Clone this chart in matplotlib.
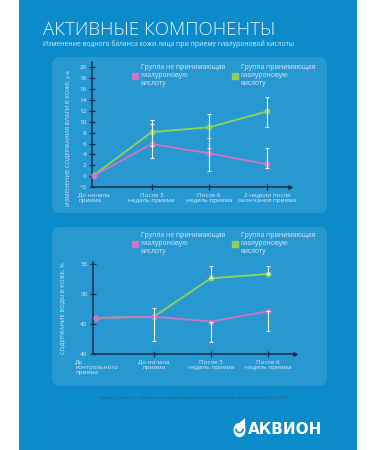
import matplotlib
matplotlib.use("Agg")
import matplotlib.pyplot as plt
from matplotlib.patches import FancyBboxPatch, Rectangle, Circle, Polygon
from matplotlib.lines import Line2D
import numpy as np

plt.rcParams['font.family'] = ['Open Sans', 'DejaVu Sans']

W, H = 375, 450

# chart 1: change of skin moisture
labels1 = ["До начала\nприема", "После 3\nнедель приема", "После 6\nнедель приема",
           "2 недели после\nокончания приема"]
pink1 = [0.1, 5.9, 4.2, 2.2]
pink1_lo = [0.1, 3.4, 1.0, 1.5]
pink1_hi = [0.1, 9.6, 7.1, 5.2]
green1 = [0.2, 8.1, 9.0, 11.9]
green1_lo = [0.2, 5.6, 5.2, 9.0]
green1_hi = [0.2, 10.4, 11.4, 14.6]
yticks1 = list(range(-2, 21, 2))

# chart 2: water content in skin, %
labels2 = ["До\nконтрольного\nприема", "До начала\nприема", "После 3\nнедель приема",
           "После 6\nнедель приема"]
pink2 = [46.0, 46.2, 45.4, 47.1]
pink2_lo = [46.0, 42.1, 42.0, 43.8]
pink2_hi = [46.0, 47.7, 45.4, 47.1]
green2 = [46.0, 46.2, 52.6, 53.3]
green2_lo = [46.0, 46.2, 52.6, 53.3]
green2_hi = [46.0, 46.2, 54.7, 54.6]
yticks2 = [40, 45, 50, 55]

leg_labels = ["Группа не принимающая\nгиалуроновую\nкислоту",
              "Группа принимающая\nгиалуроновую\nкислоту"]

BLUE = '#0b8bca'
PANEL = '#2898d1'
TXT = '#d9edf9'
AXC = '#1b2d4f'
PINK = '#cf74c9'
GREEN = '#8fd35b'


def fx(x):
    return x / W


def fy(y):
    return 1 - y / H


fig = plt.figure(figsize=(3.75, 4.5), dpi=100)
fig.patch.set_facecolor('white')
fig.patches.append(Rectangle((fx(19), 0), fx(357 - 19), 1, transform=fig.transFigure,
                             facecolor=BLUE, edgecolor='none', zorder=-3))
for top, bot in [(57, 213), (227, 386)]:
    fig.patches.append(FancyBboxPatch((fx(52), fy(bot)), fx(327 - 52), (bot - top) / H,
                                      boxstyle="round,pad=0,rounding_size=0.02",
                                      transform=fig.transFigure, facecolor=PANEL,
                                      edgecolor='none', zorder=-2))

fig.text(fx(43), fy(30), "АКТИВНЫЕ КОМПОНЕНТЫ", fontsize=13.5, color='#eaf5fc',
         weight='light', va='center', ha='left')
fig.text(fx(43), fy(44.5), "Изменение водного баланса кожи лица при приеме гиалуроновой кислоты",
         fontsize=4.9, color=TXT, va='center', ha='left')


def draw_chart(rect, xlim, ylim, yticks, labels, pink, plo, phi, green, glo, ghi, ylabel,
               ylabel_pos, leg_y):
    ax = fig.add_axes(rect)
    ax.set_facecolor('none')
    x = np.arange(len(labels))
    for vals, lo, hi, c in [(green, glo, ghi, GREEN), (pink, plo, phi, PINK)]:
        vals, lo, hi = np.array(vals), np.array(lo), np.array(hi)
        ax.plot(x, vals, color=c, lw=1.3, marker='o', ms=3.2, zorder=3, clip_on=False)
        m = (hi - lo) > 0
        ax.errorbar(x[m], vals[m], yerr=[vals[m] - lo[m], hi[m] - vals[m]], fmt='none',
                    ecolor='#f2f6fa', elinewidth=0.8, capsize=1.6, capthick=0.8, zorder=4)
    ax.set_xlim(*xlim)
    ax.set_ylim(*ylim)
    for s in ['top', 'right']:
        ax.spines[s].set_visible(False)
    for s in ['left', 'bottom']:
        ax.spines[s].set_color(AXC)
        ax.spines[s].set_linewidth(1.1)
    ax.set_yticks(yticks)
    ax.set_xticks(x, labels)
    ax.tick_params(axis='both', direction='inout', length=4, width=0.9, color=AXC,
                   labelsize=4.5, labelcolor=TXT, pad=2)
    ax.xaxis.get_major_ticks()[0].tick1line.set_visible(False)
    tl = ax.get_xticklabels()
    tl[0].set_multialignment('left')
    for t in tl:
        t.set_linespacing(1.1)
    ax.plot(1, 0, '>', color=AXC, ms=2.5, transform=ax.transAxes, clip_on=False)
    fig.text(fx(ylabel_pos[0]), fy(ylabel_pos[1]), ylabel, rotation=90, fontsize=4.3,
             color=TXT, ha='center', va='center')
    handles = [Line2D([], [], marker='s', ls='none', color=PINK, ms=4),
               Line2D([], [], marker='s', ls='none', color=GREEN, ms=4)]
    fig.legend(handles, leg_labels, ncol=2, loc='upper left',
               bbox_to_anchor=(fx(132), fy(leg_y)), frameon=False, fontsize=4.9,
               labelcolor=TXT, handletextpad=0.3, columnspacing=1.0, handlelength=1.0,
               borderaxespad=0, borderpad=0)
    return ax


draw_chart([fx(92), fy(187), fx(290 - 92), (187 - 62) / H], (-0.035, 3.4), (-2, 21),
           yticks1, labels1, pink1, pink1_lo, pink1_hi, green1, green1_lo, green1_hi,
           "ИЗМЕНЕНИЕ СОДЕРЖАНИЯ ВЛАГИ В КОЖЕ, у.е", (68, 138), 64)
draw_chart([fx(93), fy(354), fx(295 - 93), (354 - 262) / H], (-0.06, 3.47), (40, 55.3),
           yticks2, labels2, pink2, pink2_lo, pink2_hi, green2, green2_lo, green2_hi,
           "СОДЕРЖАНИЕ ВОДЫ В КОЖЕ, %", (63, 308), 232)

fig.text(fx(192), fy(398),
         "* Kawada C., Yoshida T., Yoshida H. et al. Ingested hyaluronan moisturizes dry skin. "
         "Nutrition Journal, 2014, 13:70",
         fontsize=2.6, color='#1d5a86', ha='center', va='center')

# logo
fig.patches.append(Circle((fx(239.5), fy(430)), 6 / W, transform=fig.transFigure,
                          facecolor='white', edgecolor='none'))
fig.patches.append(Polygon([(fx(233.8), fy(428)), (fx(245), fy(418)), (fx(245.2), fy(429))],
                           closed=True, transform=fig.transFigure, facecolor='white',
                           edgecolor='none'))
t = np.linspace(np.pi * 1.05, np.pi * 1.95, 20)
fig.lines.append(Line2D(fx(239.5 + 3.6 * np.cos(t)), fy(429 - 3.6 * np.sin(t)),
                        transform=fig.transFigure, color=BLUE, lw=1.2))
fig.text(fx(248), fy(429), "АКВИОН", fontsize=11, weight='bold', color='white',
         family='DejaVu Sans', ha='left', va='center')

fig.savefig('out.png', dpi=100)
